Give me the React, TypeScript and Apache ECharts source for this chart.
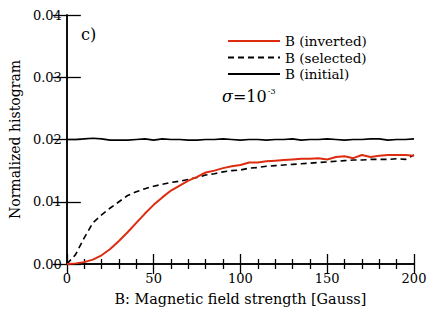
import React, { useEffect, useRef } from "react";
import * as echarts from "echarts";

const B = [0,5,10,15,20,25,30,35,40,45,50,55,60,65,70,75,80,85,90,95,100,105,110,115,120,125,130,135,140,145,150,155,160,165,170,175,180,185,190,195,200];

const inverted = [0.0000,0.0001,0.0003,0.0007,0.0014,0.0024,0.0037,0.0051,0.0066,0.0081,0.0095,0.0107,0.0118,0.0126,0.0134,0.0140,0.0147,0.0150,0.0154,0.0157,0.0159,0.0163,0.0163,0.0165,0.0166,0.0167,0.0168,0.0169,0.0169,0.0170,0.0168,0.0172,0.0173,0.0170,0.0175,0.0172,0.0174,0.0175,0.0175,0.0175,0.0174];

const selected = [0.0000,0.0015,0.0042,0.0066,0.0079,0.0090,0.0100,0.0110,0.0116,0.0121,0.0125,0.0128,0.0131,0.0133,0.0136,0.0139,0.0143,0.0145,0.0148,0.0150,0.0151,0.0154,0.0155,0.0157,0.0158,0.0159,0.0160,0.0161,0.0162,0.0163,0.0164,0.0165,0.0166,0.0167,0.0167,0.0168,0.0168,0.0168,0.0169,0.0168,0.0175];

const initial = [0.0200,0.0200,0.0201,0.0202,0.0201,0.0199,0.0199,0.0199,0.0200,0.0201,0.0199,0.0201,0.0200,0.0200,0.0199,0.0199,0.0200,0.0200,0.0201,0.0200,0.0199,0.0200,0.0200,0.0199,0.0200,0.0200,0.0201,0.0199,0.0200,0.0200,0.0201,0.0200,0.0199,0.0200,0.0200,0.0201,0.0201,0.0199,0.0200,0.0200,0.0201];

const seriesNames = ["B (inverted)", "B (selected)", "B (initial)"];
const yTicks = [0, 0.01, 0.02, 0.03, 0.04];

const FONT = "DejaVu Serif";

export default function App() {
  const ref = useRef<HTMLDivElement>(null);
  useEffect(() => {
    if (!ref.current) return;
    const chart = echarts.init(ref.current, null, { renderer: "svg" });
    const pair = (ys: number[]) => B.map((b, i) => [b, ys[i]]);
    const axisLine = { show: true, lineStyle: { color: "#000", width: 1.5 } };
    chart.setOption({
      animation: false,
      backgroundColor: "#fff",
      textStyle: { fontFamily: FONT },
      grid: { left: 65, right: 22, top: 15, bottom: 48 },
      legend: {
        orient: "vertical",
        left: 222,
        top: 29,
        itemWidth: 52,
        itemHeight: 14,
        itemGap: 2.5,
        data: seriesNames,
        itemStyle: { opacity: 0, borderWidth: 0 },
        textStyle: { fontFamily: FONT, fontSize: 13.5, color: "#000" },
      },
      xAxis: [
        {
          type: "value", min: 0, max: 200, interval: 50, position: "bottom",
          name: "B: Magnetic field strength [Gauss]", nameLocation: "middle", nameGap: 28,
          nameTextStyle: { fontFamily: FONT, fontSize: 14.4, color: "#000" },
          axisLine, axisTick: { show: true, inside: true, length: 10, lineStyle: { color: "#000", width: 1.3 } },
          minorTick: { show: true, splitNumber: 5, length: 5, lineStyle: { color: "#000", width: 1.3 } },
          axisLabel: { color: "#000", fontSize: 13, fontFamily: FONT, margin: 8 },
          splitLine: { show: false },
        },
        {
          type: "value", min: 0, max: 200, interval: 50, position: "top",
          axisLine, axisTick: { show: true, inside: true, length: 10, lineStyle: { color: "#000", width: 1.3 } },
          minorTick: { show: true, splitNumber: 5, length: 5, lineStyle: { color: "#000", width: 1.3 } },
          axisLabel: { show: false }, splitLine: { show: false },
        },
      ],
      yAxis: [
        {
          type: "value", min: yTicks[0], max: yTicks[yTicks.length - 1], interval: 0.01, position: "left",
          name: "Normalized histogram", nameLocation: "middle", nameGap: 44,
          nameTextStyle: { fontFamily: FONT, fontSize: 14, color: "#000" },
          axisLine, axisTick: { show: true, inside: true, length: 14, lineStyle: { color: "#000", width: 1.3 } },
          axisLabel: { color: "#000", fontSize: 13, fontFamily: FONT, margin: 5, formatter: (v: number) => v.toFixed(2) },
          splitLine: { show: false },
        },
        {
          type: "value", min: yTicks[0], max: yTicks[yTicks.length - 1], interval: 0.01, position: "right",
          axisLine, axisTick: { show: true, inside: true, length: 14, lineStyle: { color: "#000", width: 1.3 } },
          axisLabel: { show: false }, splitLine: { show: false },
        },
      ],
      series: [
        {
          name: seriesNames[0], type: "line", data: pair(inverted), showSymbol: false, symbol: "none",
          lineStyle: { color: "#dd2c10", width: 2 }, itemStyle: { color: "#dd2c10" }, z: 4,
        },
        {
          name: seriesNames[1], type: "line", data: pair(selected), showSymbol: false, symbol: "none",
          lineStyle: { color: "#000", width: 1.6, type: [6, 4] }, itemStyle: { color: "#000" }, z: 3,
        },
        {
          name: seriesNames[2], type: "line", data: pair(initial), showSymbol: false, symbol: "none",
          lineStyle: { color: "#000", width: 1.6 }, itemStyle: { color: "#000" }, z: 3,
        },
      ],
      graphic: [
        {
          type: "text", left: 81, top: 26,
          style: { text: "c)", fontFamily: FONT, fontSize: 16, fill: "#000" },
        },
        {
          type: "text", left: 222, top: 87,
          style: {
            text: "{i|σ}{a|=10}{s|-3}",
            fill: "#000",
            rich: {
              i: { fontFamily: FONT, fontSize: 16, fontStyle: "italic", fill: "#000", verticalAlign: "bottom" },
              a: { fontFamily: FONT, fontSize: 16, fill: "#000", verticalAlign: "bottom" },
              s: { fontFamily: FONT, fontSize: 8, fill: "#000", verticalAlign: "top", padding: [0, 0, 9, 1] },
            },
          },
        },
      ],
    });
    return () => chart.dispose();
  }, []);
  return <div ref={ref} style={{ position: "absolute", left: 0, top: 0, width: 436, height: 312 }} />;
}
